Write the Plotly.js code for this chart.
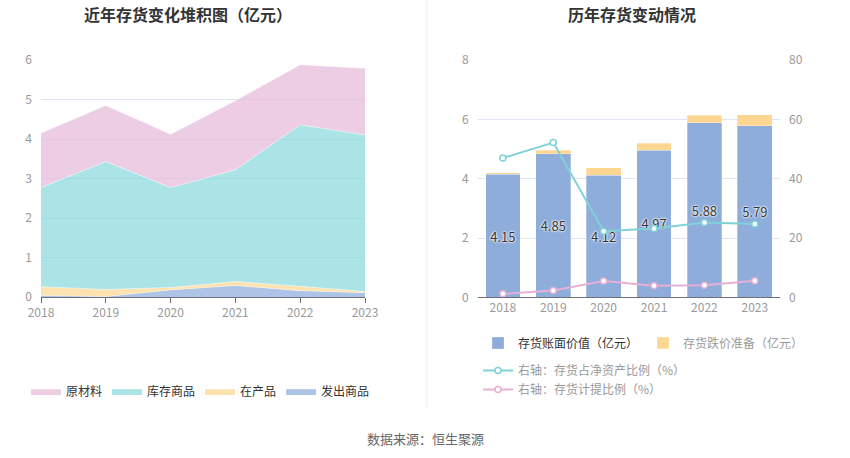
<!DOCTYPE html>
<html><head><meta charset="utf-8">
<script src="https://cdn.plot.ly/plotly-3.0.1.min.js"></script>
<style>html,body{margin:0;padding:0;background:#fff}#c{width:850px;height:458px}</style>
</head><body><div id="c"></div>
<script>
var years = ['2018','2019','2020','2021','2022','2023'];
// left stacked area (亿元)
var faChu   = [0.04, 0.01, 0.18, 0.29, 0.16, 0.11];   // 发出商品
var zaiChan = [0.22, 0.18, 0.06, 0.10, 0.11, 0.03];   // 在产品
var kuCun   = [2.51, 3.24, 2.53, 2.83, 4.09, 3.96];   // 库存商品
var yuanCai = [1.38, 1.42, 1.35, 1.75, 1.52, 1.69];   // 原材料
// right chart
var bookValue = [4.15, 4.85, 4.12, 4.97, 5.88, 5.79]; // 存货账面价值
var reserve   = [0.05, 0.12, 0.25, 0.22, 0.26, 0.36]; // 存货跌价准备
var ratioNet  = [47.0, 52.2, 22.4, 23.3, 25.3, 24.8]; // 存货占净资产比例
var ratioProv = [1.3, 2.4, 5.6, 4.0, 4.2, 5.7];       // 存货计提比例

var FONT = '"Noto Sans CJK SC", "Noto Sans", sans-serif';
var W = 850, H = 458;
function px(x){return x/W;}
function py(y){return 1 - y/H;}

function area(name, vals, fill){
  return {type:'scatter', mode:'lines', x:years, y:vals, name:name, stackgroup:'one',
    fillcolor:fill, line:{width:0.6, color:'rgba(255,255,255,0.7)', shape:'linear'},
    xaxis:'x', yaxis:'y', legend:'legend', hoverinfo:'skip'};
}
var traces = [
  area('发出商品', faChu, 'rgba(142,173,220,0.72)'),
  area('在产品', zaiChan, 'rgba(253,215,146,0.72)'),
  area('库存商品', kuCun, 'rgba(136,216,219,0.70)'),
  area('原材料', yuanCai, 'rgba(230,184,216,0.70)'),
  {type:'bar', x:years, y:bookValue, name:'存货账面价值（亿元）', xaxis:'x2', yaxis:'y2',
    marker:{color:'#8eaddb', line:{color:'rgba(255,255,255,0.6)', width:0.5}},
    text:bookValue.map(function(v){return v.toFixed(2);}), textposition:'inside',
    insidetextanchor:'middle', textangle:0, constraintext:'none',
    textfont:{family:FONT, size:13, color:'#333', shadow:'0px 0px 2px #fff, 0px 0px 2px #fff, 0px 0px 2px #fff'},
    legend:'legend2', hoverinfo:'skip'},
  {type:'bar', x:years, y:reserve, name:'<span style="color:#999">存货跌价准备（亿元）</span>', xaxis:'x2', yaxis:'y2',
    marker:{color:'#fdd792', line:{color:'rgba(255,255,255,0.6)', width:0.5}},
    legend:'legend2', hoverinfo:'skip'},
  {type:'scatter', mode:'lines+markers', x:years, y:ratioNet, name:'<span style="color:#999">右轴：存货占净资产比例（%）</span>',
    xaxis:'x2', yaxis:'y3', line:{color:'#7fd3d6', width:2},
    marker:{symbol:'circle', size:6, color:'#fff', line:{color:'#7fd3d6', width:1.5}},
    legend:'legend3', hoverinfo:'skip'},
  {type:'scatter', mode:'lines+markers', x:years, y:ratioProv, name:'<span style="color:#999">右轴：存货计提比例（%）</span>',
    xaxis:'x2', yaxis:'y3', line:{color:'#e6b0d6', width:2},
    marker:{symbol:'circle', size:6, color:'#fff', line:{color:'#e6b0d6', width:1.5}},
    legend:'legend3', hoverinfo:'skip'}
];

var tickFont = {family:FONT, size:12, color:'#999'};
var layout = {
  width:W, height:H, margin:{l:0,r:0,t:0,b:0},
  paper_bgcolor:'#fff', plot_bgcolor:'rgba(0,0,0,0)',
  font:{family:FONT, size:12, color:'#666'},
  showlegend:true, barmode:'stack', bargap:0.31,
  xaxis:{domain:[px(41), px(365)], type:'category', range:[0,5], showgrid:false,
    showline:true, linecolor:'#6e7079', linewidth:1, ticks:'outside', ticklen:5, tickcolor:'#6e7079',
    tickfont:tickFont, zeroline:false, fixedrange:true},
  yaxis:{domain:[py(297), py(60)], range:[0,6], dtick:1, showgrid:true, gridcolor:'#e0e6f1',
    zeroline:false, showline:false, tickfont:tickFont, ticks:'', ticklabelstandoff:8, fixedrange:true},
  xaxis2:{domain:[px(477.7), px(780)], type:'category', range:[-0.5,5.5], showgrid:false,
    showline:true, linecolor:'#6e7079', linewidth:1, ticks:'', tickfont:tickFont, zeroline:false, fixedrange:true},
  yaxis2:{domain:[py(297.7), py(60)], range:[0,8], dtick:2, showgrid:true, gridcolor:'#e0e6f1',
    zeroline:false, showline:false, tickfont:tickFont, anchor:'x2', ticklabelstandoff:8, fixedrange:true},
  yaxis3:{overlaying:'y2', side:'right', anchor:'x2', range:[0,80], dtick:20, showgrid:false,
    zeroline:false, showline:false, tickfont:tickFont, ticklabelstandoff:8, fixedrange:true},
  legend:{orientation:'h', x:px(26), y:py(391), xanchor:'left', yanchor:'middle',
    font:{family:FONT, size:12, color:'#333'}, traceorder:'reversed', itemwidth:30, bgcolor:'rgba(0,0,0,0)'},
  legend2:{orientation:'h', x:px(478), y:py(343), xanchor:'left', yanchor:'middle',
    font:{family:FONT, size:12, color:'#333'}, traceorder:'normal', itemwidth:30, bgcolor:'rgba(0,0,0,0)'},
  legend3:{orientation:'v', x:px(478), y:py(356), xanchor:'left', yanchor:'top',
    font:{family:FONT, size:12, color:'#999'}, traceorder:'normal', itemwidth:30, tracegroupgap:4, bgcolor:'rgba(0,0,0,0)'},
  shapes:[{type:'line', xref:'paper', yref:'paper', x0:px(427), x1:px(427), y0:py(408), y1:1,
    line:{color:'#eeeeee', width:1}}],
  annotations:[
    {text:'<b>近年存货变化堆积图（亿元）</b>', xref:'paper', yref:'paper', x:px(188), y:py(14),
      xanchor:'center', yanchor:'middle', showarrow:false, font:{family:FONT, size:16, color:'#333'}},
    {text:'<b>历年存货变动情况</b>', xref:'paper', yref:'paper', x:px(632), y:py(14),
      xanchor:'center', yanchor:'middle', showarrow:false, font:{family:FONT, size:16, color:'#333'}},
    {text:'数据来源：恒生聚源', xref:'paper', yref:'paper', x:px(425), y:py(438),
      xanchor:'center', yanchor:'middle', showarrow:false, font:{family:FONT, size:13, color:'#666'}}
  ]
};
Plotly.newPlot('c', traces, layout, {displayModeBar:false, staticPlot:true});
</script></body></html>
